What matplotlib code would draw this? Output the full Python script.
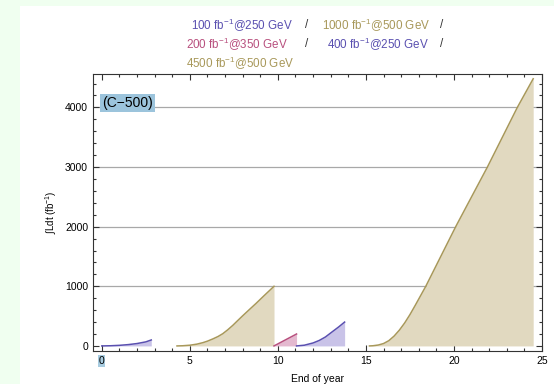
"""
Integrated luminosity plan (C-500) - recreated chart
"""

import matplotlib
matplotlib.use('Agg')
import matplotlib.pyplot as plt
from matplotlib.patches import Rectangle
from matplotlib.ticker import MultipleLocator

plt.rcParams['font.family'] = ['Liberation Sans', 'DejaVu Sans']
plt.rcParams['mathtext.fontset'] = 'custom'
plt.rcParams['mathtext.rm'] = 'Liberation Sans'
plt.rcParams['mathtext.it'] = 'Liberation Sans'

# Data (year, integrated lumi in fb^-1)
blue1_x = [0, 0.5, 1.0, 1.5, 2.0, 2.5, 2.81]
blue1_y = [0, 3, 10, 22, 40, 68, 100]

gold1_x = [4.27, 4.6, 5.0, 5.4, 5.74, 6.0, 6.31, 6.6, 6.87, 7.15, 7.44, 7.7, 8.0, 8.4, 8.76, 9.2, 9.78]
gold1_y = [0, 3, 12, 30, 55, 80, 118, 158, 205, 270, 345, 420, 505, 615, 713, 838, 1000]

pink_x = [9.78, 11.06]
pink_y = [0, 200]

blue2_x = [11.06, 11.5, 12.0, 12.35, 12.7, 13.1, 13.45, 13.79]
blue2_y = [0, 12, 50, 92, 150, 240, 318, 400]

gold2_x = [15.2, 15.4, 15.7, 16.0, 16.3, 16.6, 16.9, 17.2, 17.5, 17.8, 18.1, 18.4,
           20.1, 21.9, 23.6, 24.5]
gold2_y = [0, 3, 15, 40, 88, 165, 265, 385, 525, 680, 840, 1000,
           2000, 3000, 4000, 4480]

x_ticks = [0, 5, 10, 15, 20, 25]
y_ticks = [0, 1000, 2000, 3000, 4000]

BLUE = '#5a50b0'
GOLD = '#a8985a'
PINK = '#b8507e'
fills = {BLUE: '#c9c3e8', GOLD: '#e1d9c0', PINK: '#e4b9cf'}

W, H = 554, 384
fig = plt.figure(figsize=(W / 100, H / 100), dpi=100)
fig.patch.set_facecolor('white')

# light green border strip on the left and top
fig.add_artist(Rectangle((0, 0), 20 / W, 1, transform=fig.transFigure,
                         facecolor='#f0fff0', edgecolor='none', zorder=-10))
fig.add_artist(Rectangle((0, 1 - 6 / H), 1, 6 / H, transform=fig.transFigure,
                         facecolor='#f0fff0', edgecolor='none', zorder=-10))

ax = fig.add_axes([93 / W, (H - 351) / H, (542 - 93) / W, (351 - 74) / H])

segments = [(blue1_x, blue1_y, BLUE), (gold1_x, gold1_y, GOLD),
            (pink_x, pink_y, PINK), (blue2_x, blue2_y, BLUE),
            (gold2_x, gold2_y, GOLD)]
for xs, ys, c in segments:
    ax.fill_between(xs, 0, ys, color=fills[c], linewidth=0, zorder=2)
    ax.plot(xs, ys, color=c, linewidth=1.1, zorder=3)

ax.set_xlim(-0.5, 25)
ax.set_ylim(-85, 4560)

for y in y_ticks[1:]:
    ax.axhline(y, color='#a8a8a8', linewidth=0.9, zorder=1)

ax.set_xticks(x_ticks, labels=[str(v) for v in x_ticks])
ax.set_yticks(y_ticks, labels=[str(v) for v in y_ticks])
ax.xaxis.set_minor_locator(MultipleLocator(1))
ax.yaxis.set_minor_locator(MultipleLocator(200))
ax.tick_params(which='both', direction='in', top=True, right=True,
               labelsize=7.5, color='#333333', width=0.8)
ax.tick_params(which='major', length=4)
ax.tick_params(which='minor', length=2.2)
for s in ax.spines.values():
    s.set_color('#333333')
    s.set_linewidth(0.8)

ax.get_xticklabels()[0].set_bbox(dict(facecolor='#a8cce0', edgecolor='none', pad=0.5))

ax.set_xlabel('End of year', fontsize=7.5, labelpad=6)
ax.set_ylabel(r'$\int$Ldt (fb$^{-1}$)', fontsize=7, labelpad=4)

ax.text(0.02, 0.895, '(C\u2212500)', transform=ax.transAxes, fontsize=10,
        va='center', ha='left', zorder=5,
        bbox=dict(facecolor='#9cc4dc', edgecolor='none', pad=1.5))

# coloured legend text above the plot
def ftext(px, py, s, c):
    fig.text(px / W, 1 - py / H, s, color=c, fontsize=8.4, va='center', ha='left')

ftext(191, 25, r'100 fb$^{-1}$@250 GeV', BLUE)
ftext(305, 25, '/', '#333333')
ftext(322, 25, r'1000 fb$^{-1}$@500 GeV', GOLD)
ftext(440, 25, '/', '#333333')
ftext(186, 44, r'200 fb$^{-1}$@350 GeV', PINK)
ftext(305, 44, '/', '#333333')
ftext(327, 44, r'400 fb$^{-1}$@250 GeV', BLUE)
ftext(440, 44, '/', '#333333')
ftext(186, 63, r'4500 fb$^{-1}$@500 GeV', GOLD)

fig.savefig('out.png', dpi=100)
